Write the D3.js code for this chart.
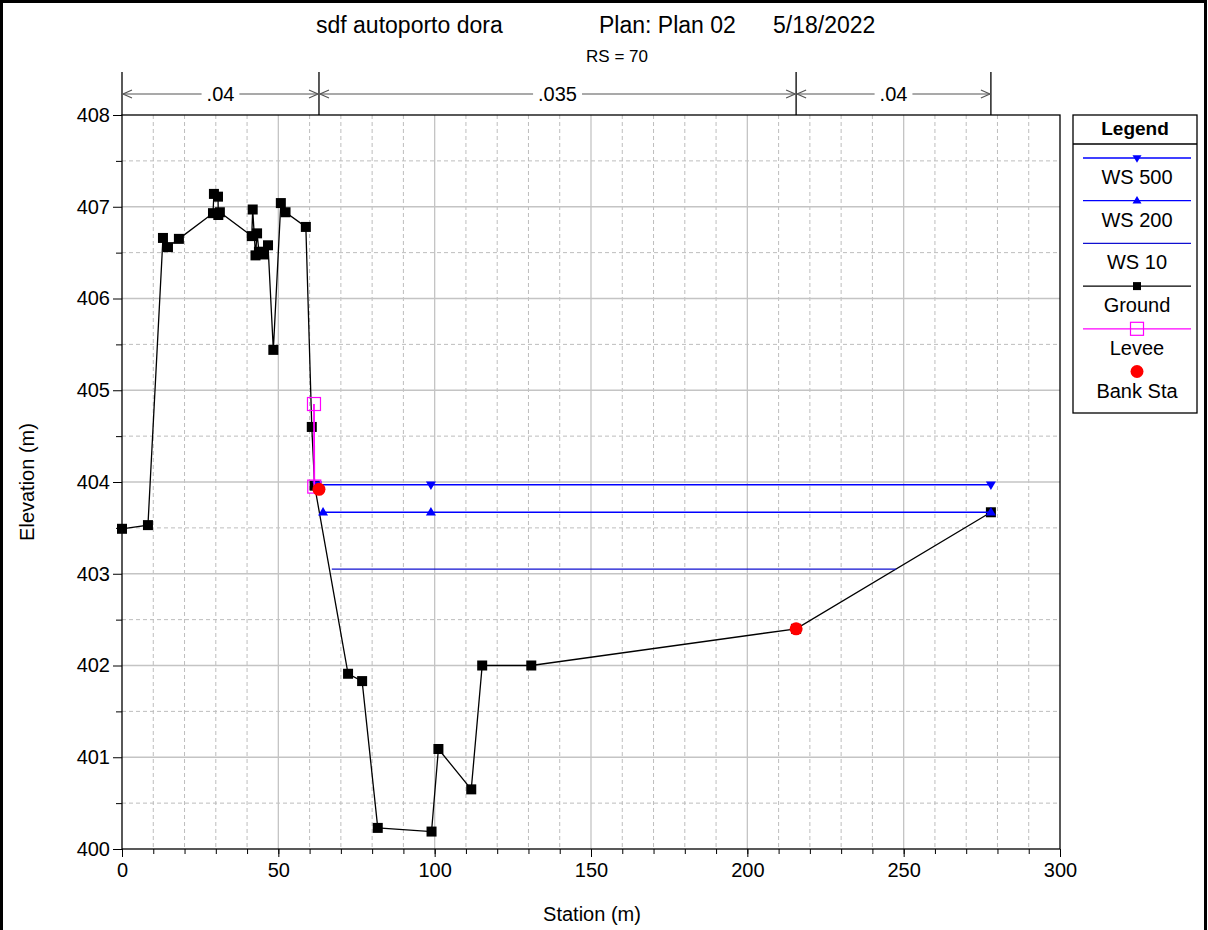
<!DOCTYPE html>
<html>
<head>
<meta charset="utf-8">
<script src="https://cdn.jsdelivr.net/npm/d3@7"></script>
<style>
  body { margin: 0; background: #fff; }
  svg { display: block; font-family: "Liberation Sans", Arial, sans-serif; }
  .tick text { font-size: 20px; fill: #000; }
  .axis path { display: none; }
  .axis line { stroke: #000; }
</style>
</head>
<body>
<svg id="chart" width="1208" height="930"></svg>
<script>
// Cross section RS = 70

const groundSta = [0, 8.3, 13.1, 14.7, 18.2, 29.1, 29.4, 30.7, 30.8, 31.3, 41.5, 41.8, 42.7, 43.2, 43.8, 45.4, 46.7, 48.4, 50.8, 52.3, 58.8, 60.7, 61.6, 72.3, 76.8, 81.8, 99.0, 101.2, 111.7, 115.2, 130.9, 215.6, 277.9];
const groundElev = [403.49, 403.53, 406.66, 406.56, 406.65, 406.93, 407.14, 407.11, 406.91, 406.94, 406.68, 406.97, 406.47, 406.71, 406.51, 406.48, 406.58, 405.44, 407.04, 406.94, 406.78, 404.60, 403.96, 401.91, 401.83, 400.23, 400.19, 401.09, 400.65, 402.00, 402.00, 402.40, 403.67];

const leveeSta = [61.4, 61.5];
const leveeElev = [404.85, 403.95];

const bankSta = [63.0, 215.6];
const bankElev = [403.92, 402.40];

// water surfaces: stations of line ends / markers, one elevation each
const ws500Sta = [62.4, 98.8, 277.9];
const ws500Elev = 403.97;
const ws200Sta = [64.3, 98.8, 277.9];
const ws200Elev = 403.67;
const ws10Sta = [67.1, 247.6];
const ws10Elev = 403.05;

// Manning's n regions
const nBreaks = [0, 63.0, 215.6, 277.9];
const nValues = [".04", ".035", ".04"];

const xTicks = [0, 50, 100, 150, 200, 250, 300];
const yTicks = [400, 401, 402, 403, 404, 405, 406, 407, 408];

const mLeft = 122, mRight = 1060, mTop = 115, mBottom = 849;

const svg = d3.select("#chart");

const x = d3.scaleLinear().domain([0, 300]).range([mLeft, mRight]);
const y = d3.scaleLinear().domain([400, 408]).range([mBottom, mTop]);

// outer frame
svg.append("rect")
  .attr("x", 1.5).attr("y", 1.5)
  .attr("width", 1204).attr("height", 940)
  .attr("fill", "none").attr("stroke", "#000").attr("stroke-width", 3);

// Titles
const title = svg.append("g").attr("font-size", 23);
title.append("text").attr("x", 316).attr("y", 33).text("sdf autoporto dora");
title.append("text").attr("x", 599).attr("y", 33).text("Plan: Plan 02");
title.append("text").attr("x", 773).attr("y", 33).text("5/18/2022");
svg.append("text")
  .attr("x", 617).attr("y", 62)
  .attr("text-anchor", "middle").attr("font-size", 17)
  .text("RS = 70");

// Grid
const grid = svg.append("g");
grid.selectAll("line.vminor")
  .data(d3.range(10, 300, 10).filter((v) => v % 50 !== 0))
  .join("line")
  .attr("x1", (d) => x(d)).attr("x2", (d) => x(d))
  .attr("y1", mTop).attr("y2", mBottom)
  .attr("stroke", "#bdbdbd").attr("stroke-dasharray", "4,3");
grid.selectAll("line.hminor")
  .data(d3.range(400.5, 408, 1))
  .join("line")
  .attr("x1", mLeft).attr("x2", mRight)
  .attr("y1", (d) => y(d)).attr("y2", (d) => y(d))
  .attr("stroke", "#bdbdbd").attr("stroke-dasharray", "4,3");
grid.selectAll("line.vmajor")
  .data(xTicks.slice(1, -1))
  .join("line")
  .attr("x1", (d) => x(d)).attr("x2", (d) => x(d))
  .attr("y1", mTop).attr("y2", mBottom)
  .attr("stroke", "#c4c4c4").attr("stroke-width", 1.3);
grid.selectAll("line.hmajor")
  .data(yTicks.slice(1, -1))
  .join("line")
  .attr("x1", mLeft).attr("x2", mRight)
  .attr("y1", (d) => y(d)).attr("y2", (d) => y(d))
  .attr("stroke", "#c4c4c4").attr("stroke-width", 1.3);

// Axes
svg.append("g")
  .attr("class", "axis")
  .attr("transform", `translate(0,${mBottom})`)
  .call(d3.axisBottom(x).tickValues(d3.range(0, 301, 10)).tickSize(5).tickFormat(""));
svg.append("g")
  .attr("class", "axis")
  .attr("transform", `translate(0,${mBottom})`)
  .call(d3.axisBottom(x).tickValues(xTicks).tickSize(8).tickPadding(6));
svg.append("g")
  .attr("class", "axis")
  .attr("transform", `translate(${mLeft},0)`)
  .call(d3.axisLeft(y).tickValues(d3.range(400.5, 408, 1)).tickSize(6).tickFormat(""));
svg.append("g")
  .attr("class", "axis")
  .attr("transform", `translate(${mLeft},0)`)
  .call(d3.axisLeft(y).tickValues(yTicks).tickSize(9).tickPadding(3).tickFormat(d3.format("d")));

// plot frame
svg.append("rect")
  .attr("x", mLeft).attr("y", mTop)
  .attr("width", mRight - mLeft).attr("height", mBottom - mTop)
  .attr("fill", "none").attr("stroke", "#000").attr("stroke-width", 1.3);

// Axis titles
svg.append("text")
  .attr("x", 592).attr("y", 921)
  .attr("text-anchor", "middle").attr("font-size", 20)
  .text("Station (m)");
svg.append("text")
  .attr("transform", "translate(34,482) rotate(-90)")
  .attr("text-anchor", "middle").attr("font-size", 20)
  .text("Elevation (m)");

// Manning's n bars
const nG = svg.append("g");
const arrowY = 94;
nG.selectAll("line.nb")
  .data(nBreaks)
  .join("line")
  .attr("x1", (d) => x(d)).attr("x2", (d) => x(d))
  .attr("y1", 72).attr("y2", mTop)
  .attr("stroke", "#000").attr("stroke-width", 1.3);

nValues.forEach((v, i) => {
  const x0 = x(nBreaks[i]) + 1, x1 = x(nBreaks[i + 1]) - 1;
  const mid = (x0 + x1) / 2;
  const txt = nG.append("text")
    .attr("x", mid).attr("y", arrowY + 7)
    .attr("text-anchor", "middle").attr("font-size", 20)
    .text(v);
  const w = txt.node().getComputedTextLength() / 2 + 5;
  nG.append("line")
    .attr("x1", x0).attr("x2", mid - w).attr("y1", arrowY).attr("y2", arrowY)
    .attr("stroke", "#555").attr("stroke-width", 1.2);
  nG.append("line")
    .attr("x1", mid + w).attr("x2", x1).attr("y1", arrowY).attr("y2", arrowY)
    .attr("stroke", "#555").attr("stroke-width", 1.2);
  nG.append("path")
    .attr("d", `M${x0 + 9},${arrowY - 4}L${x0},${arrowY}L${x0 + 9},${arrowY + 4}`)
    .attr("fill", "none").attr("stroke", "#555").attr("stroke-width", 1.2);
  nG.append("path")
    .attr("d", `M${x1 - 9},${arrowY - 4}L${x1},${arrowY}L${x1 - 9},${arrowY + 4}`)
    .attr("fill", "none").attr("stroke", "#555").attr("stroke-width", 1.2);
});

// Data layers
const plot = svg.append("g");
const line = d3.line().x((d) => x(d[0])).y((d) => y(d[1]));

const downTri = (s) => {
  const h = s * 0.85;
  return `M${-s / 2},${-h / 2}L${s / 2},${-h / 2}L0,${h / 2}Z`;
};
const upTri = (s) => {
  const h = s * 0.85;
  return `M${-s / 2},${h / 2}L${s / 2},${h / 2}L0,${-h / 2}Z`;
};

// ground
const ground = groundSta.map((s, i) => [s, groundElev[i]]);
plot.append("path")
  .attr("d", line(ground))
  .attr("fill", "none").attr("stroke", "#000").attr("stroke-width", 1.3);
plot.selectAll("rect.gp")
  .data(ground)
  .join("rect")
  .attr("x", (d) => x(d[0]) - 5).attr("y", (d) => y(d[1]) - 5)
  .attr("width", 10).attr("height", 10)
  .attr("fill", "#000");

// water surfaces
const wsColor = "#0000ff";
const ws10 = ws10Sta.map((s) => [s, ws10Elev]);
plot.append("path")
  .attr("d", line(ws10))
  .attr("fill", "none").attr("stroke", "#1010d0").attr("stroke-width", 1.3);

const ws200 = ws200Sta.map((s) => [s, ws200Elev]);
plot.append("path")
  .attr("d", line(ws200))
  .attr("fill", "none").attr("stroke", wsColor).attr("stroke-width", 1.5);
plot.selectAll("path.w200")
  .data(ws200)
  .join("path")
  .attr("transform", (d) => `translate(${x(d[0])},${y(d[1]) - 1})`)
  .attr("d", upTri(10))
  .attr("fill", wsColor);

const ws500 = ws500Sta.map((s) => [s, ws500Elev]);
plot.append("path")
  .attr("d", line(ws500))
  .attr("fill", "none").attr("stroke", wsColor).attr("stroke-width", 1.5);
plot.selectAll("path.w500")
  .data(ws500)
  .join("path")
  .attr("transform", (d) => `translate(${x(d[0])},${y(d[1]) + 1})`)
  .attr("d", downTri(10))
  .attr("fill", wsColor);

// levee
const levee = leveeSta.map((s, i) => [s, leveeElev[i]]);
plot.append("path")
  .attr("d", line(levee))
  .attr("fill", "none").attr("stroke", "#ff00ff").attr("stroke-width", 1.8);
plot.selectAll("rect.lv")
  .data(levee)
  .join("rect")
  .attr("x", (d) => x(d[0]) - 6.5).attr("y", (d) => y(d[1]) - 6.5)
  .attr("width", 13).attr("height", 13)
  .attr("fill", "none").attr("stroke", "#ff00ff").attr("stroke-width", 1.2);

// bank stations
plot.selectAll("circle.bank")
  .data(bankSta.map((s, i) => [s, bankElev[i]]))
  .join("circle")
  .attr("cx", (d) => x(d[0])).attr("cy", (d) => y(d[1]))
  .attr("r", 6.5)
  .attr("fill", "#ff0000");

// Legend
const lg = svg.append("g");
const lgX = 1073, lgW = 124, lgTop = 115, lgH = 298;
lg.append("rect")
  .attr("x", lgX).attr("y", lgTop).attr("width", lgW).attr("height", lgH)
  .attr("fill", "#fff").attr("stroke", "#000").attr("stroke-width", 1.3);
lg.append("line")
  .attr("x1", lgX).attr("x2", lgX + lgW).attr("y1", 144).attr("y2", 144)
  .attr("stroke", "#000").attr("stroke-width", 1.3);
lg.append("text")
  .attr("x", lgX + lgW / 2).attr("y", 135)
  .attr("text-anchor", "middle").attr("font-size", 19).attr("font-weight", "bold")
  .text("Legend");

const legendItems = [
  { name: "WS 500", color: wsColor, marker: "down" },
  { name: "WS 200", color: wsColor, marker: "up" },
  { name: "WS 10", color: "#1010d0", marker: null },
  { name: "Ground", color: "#000", marker: "square" },
  { name: "Levee", color: "#ff00ff", marker: "open" },
  { name: "Bank Sta", color: "#ff0000", marker: "circle", noLine: true },
];
const lx0 = 1083, lx1 = 1191, lcx = (lx0 + lx1) / 2;
legendItems.forEach((it, i) => {
  const ly = 158 + i * 42.7;
  if (!it.noLine) {
    lg.append("line")
      .attr("x1", lx0).attr("x2", lx1).attr("y1", ly).attr("y2", ly)
      .attr("stroke", it.color).attr("stroke-width", 1.3);
  }
  if (it.marker === "down") {
    lg.append("path").attr("transform", `translate(${lcx},${ly + 1})`).attr("d", downTri(9)).attr("fill", it.color);
  } else if (it.marker === "up") {
    lg.append("path").attr("transform", `translate(${lcx},${ly - 1})`).attr("d", upTri(9)).attr("fill", it.color);
  } else if (it.marker === "square") {
    lg.append("rect").attr("x", lcx - 4).attr("y", ly - 4).attr("width", 8).attr("height", 8).attr("fill", "#000");
  } else if (it.marker === "open") {
    lg.append("rect").attr("x", lcx - 6.5).attr("y", ly - 6.5).attr("width", 13).attr("height", 13)
      .attr("fill", "none").attr("stroke", it.color).attr("stroke-width", 1.2);
  } else if (it.marker === "circle") {
    lg.append("circle").attr("cx", lcx).attr("cy", ly).attr("r", 6.5).attr("fill", it.color);
  }
  lg.append("text")
    .attr("x", lcx).attr("y", ly + 26)
    .attr("text-anchor", "middle").attr("font-size", 20)
    .text(it.name);
});
</script>
</body>
</html>
